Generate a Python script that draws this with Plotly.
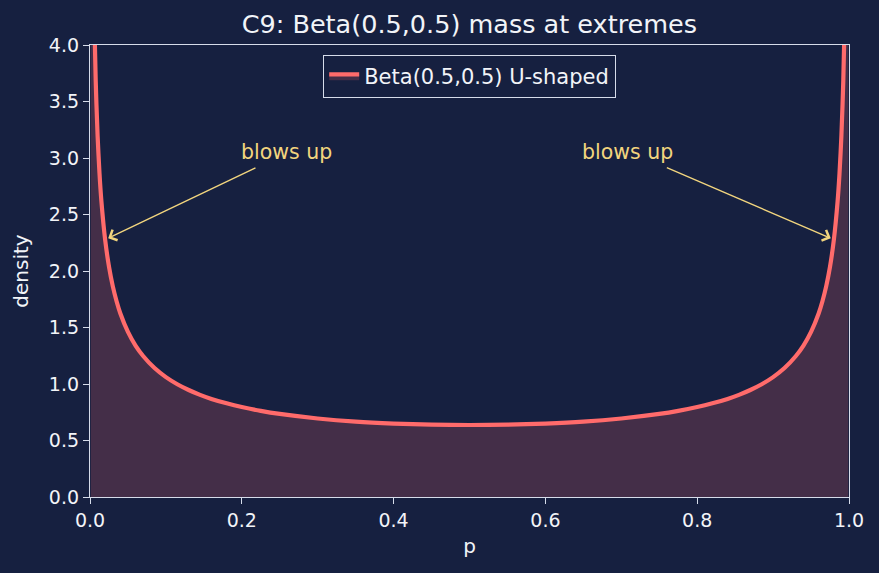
import plotly.graph_objects as go

# Values (density of the U-shaped curve)
p_vals = [0.001, 0.002, 0.003, 0.005, 0.0075, 0.01, 0.0125, 0.015, 0.02, 0.025,
          0.03, 0.035, 0.04, 0.05, 0.06, 0.07, 0.085, 0.1, 0.115, 0.13, 0.145,
          0.16, 0.18, 0.2, 0.225, 0.25, 0.3, 0.35, 0.4, 0.45, 0.5,
          0.55, 0.6, 0.65, 0.7, 0.75, 0.775, 0.8, 0.82, 0.84, 0.855, 0.87,
          0.885, 0.9, 0.915, 0.93, 0.94, 0.95, 0.96, 0.965, 0.97, 0.975, 0.98,
          0.985, 0.9875, 0.99, 0.9925, 0.995, 0.997, 0.998, 0.999]
density = [10.07, 7.125, 5.82, 4.513, 3.689, 3.199, 2.865, 2.619, 2.274, 2.039,
           1.866, 1.732, 1.624, 1.461, 1.340, 1.248, 1.141, 1.061, 0.998, 0.947, 0.904,
           0.868, 0.829, 0.796, 0.762, 0.735, 0.695, 0.667, 0.650, 0.640, 0.637,
           0.640, 0.650, 0.667, 0.695, 0.735, 0.762, 0.796, 0.829, 0.868, 0.904, 0.947,
           0.998, 1.061, 1.141, 1.248, 1.340, 1.461, 1.624, 1.732, 1.866, 2.039, 2.274,
           2.619, 2.865, 3.199, 3.689, 4.513, 5.82, 7.125, 10.07]

x_ticks = [0.0, 0.2, 0.4, 0.6, 0.8, 1.0]
y_ticks = [0.0, 0.5, 1.0, 1.5, 2.0, 2.5, 3.0, 3.5, 4.0]

ann_text = ["blows up", "blows up"]
ann_text_pos = [(0.2, 3.0), (0.65, 3.0)]
ann_tail = [(0.22, 2.92), (0.758, 2.92)]
ann_tip = [(0.024, 2.29), (0.976, 2.29)]

BG = "#162040"
AX = "#d6dcea"
FONT = "DejaVu Sans"
LINE = "#ff6b6b"
ANN = "#f2d57e"
TXT = "#f2f4f8"

fig = go.Figure()
fig.add_trace(go.Scatter(
    x=p_vals, y=density, mode="lines", fill="tozeroy",
    fillcolor="rgba(255,107,107,0.2)",
    line=dict(color=LINE, width=4.2, shape="spline", smoothing=0.8),
    name="Beta(0.5,0.5) U-shaped",
))

annotations = []
for t, (tx, ty) in zip(ann_text, ann_text_pos):
    annotations.append(dict(x=tx, y=ty, xref="x", yref="y", text=t, showarrow=False,
                            xanchor="left", yanchor="bottom", xshift=-3, yshift=-8,
                            font=dict(family=FONT, size=20.5, color=ANN)))
for (ax_, ay_), (hx, hy) in zip(ann_tail, ann_tip):
    annotations.append(dict(x=hx, y=hy, xref="x", yref="y", ax=ax_, ay=ay_,
                            axref="x", ayref="y", text="", showarrow=True,
                            arrowhead=4, arrowsize=1.6, arrowwidth=1.4, arrowcolor=ANN))

fig.update_layout(
    width=879, height=573,
    paper_bgcolor=BG, plot_bgcolor=BG,
    margin=dict(l=90, r=30, t=45, b=76),
    font=dict(family=FONT, size=19, color=TXT),
    title=dict(text="C9: Beta(0.5,0.5) mass at extremes", x=0.534, xanchor="center",
               y=0.958, yanchor="middle", font=dict(size=25.5, color=TXT)),
    showlegend=True,
    legend=dict(x=0.5, xanchor="center", y=0.978, yanchor="top",
                bgcolor=BG, bordercolor=AX, borderwidth=1.2,
                font=dict(size=21, color=TXT)),
    annotations=annotations,
)
fig.update_xaxes(range=[0, 1], tickvals=x_ticks, ticktext=[f"{v:.1f}" for v in x_ticks],
                 showgrid=False, zeroline=False, showline=True, mirror=True,
                 linecolor=AX, linewidth=1.3, ticks="outside", ticklen=6, tickcolor=AX,
                 tickfont=dict(size=19), title=dict(text="p", font=dict(size=20), standoff=9))
fig.update_yaxes(range=[0, 4], tickvals=y_ticks, ticktext=[f"{v:.1f}" for v in y_ticks],
                 showgrid=False, zeroline=False, showline=True, mirror=True,
                 linecolor=AX, linewidth=1.3, ticks="outside", ticklen=6, tickcolor=AX,
                 tickfont=dict(size=19), title=dict(text="density", font=dict(size=20), standoff=14))

fig.write_html("out.html")
